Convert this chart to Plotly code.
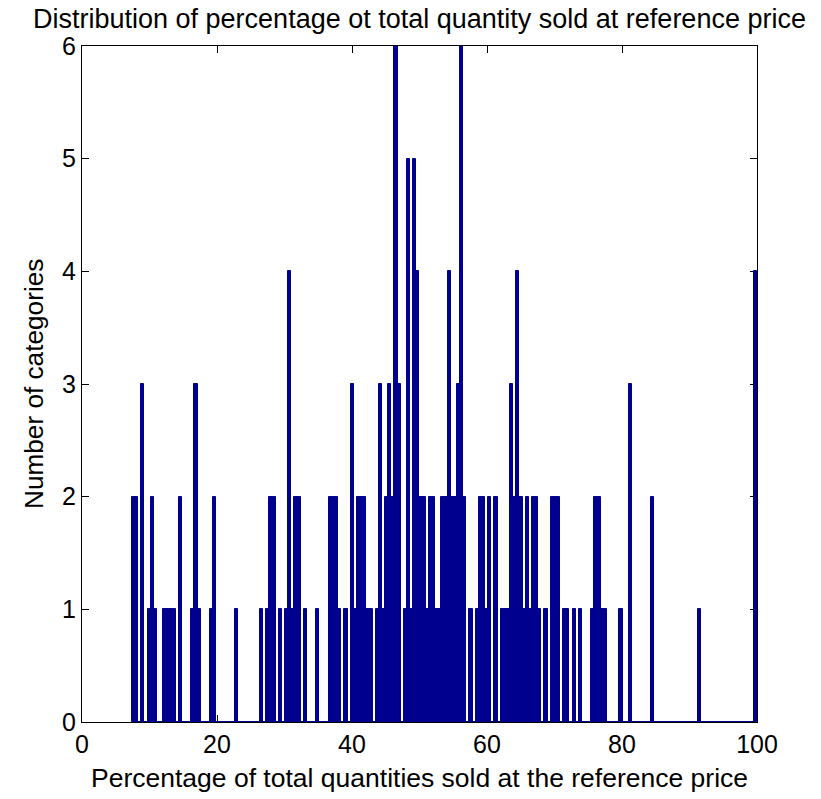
import numpy as np
import plotly.graph_objects as go

# Text
title_text = "Distribution of percentage ot total quantity sold at reference price"
x_label = "Percentage of total quantities sold at the reference price"
y_label = "Number of categories"

# Histogram: 200 equal-width bins between the smallest share and 100 %
bin_lo = 7.4
bin_hi = 100.0
counts = [
    2, 2, 0, 3, 0, 1, 2, 1, 0, 0, 1, 1, 1, 1, 0, 2, 0, 0, 0, 1,
    3, 1, 0, 0, 0, 1, 2, 0, 0, 0, 0, 0, 0, 1, 0, 0, 0, 0, 0, 0,
    0, 1, 0, 1, 2, 2, 0, 1, 0, 1, 4, 1, 2, 2, 0, 1, 0, 0, 0, 1,
    0, 0, 0, 2, 2, 2, 1, 0, 1, 0, 3, 1, 2, 2, 2, 1, 1, 0, 1, 3,
    1, 2, 3, 2, 6, 3, 0, 1, 5, 1, 5, 4, 2, 2, 1, 2, 2, 1, 1, 2,
    2, 4, 2, 2, 3, 6, 2, 0, 1, 0, 1, 2, 2, 1, 2, 0, 2, 0, 1, 1,
    1, 3, 2, 4, 2, 1, 2, 1, 2, 2, 1, 0, 1, 0, 2, 2, 2, 0, 1, 1,
    0, 1, 0, 1, 0, 0, 0, 1, 2, 2, 1, 1, 0, 0, 0, 0, 1, 0, 0, 3,
    0, 0, 0, 0, 0, 0, 2, 0, 0, 0, 0, 0, 0, 0, 0, 0, 0, 0, 0, 0,
    0, 1, 0, 0, 0, 0, 0, 0, 0, 0, 0, 0, 0, 0, 0, 0, 0, 0, 0, 4,
]

x_ticks = [0, 20, 40, 60, 80, 100]
y_ticks = [0, 1, 2, 3, 4, 5, 6]

BAR = "rgb(0,0,143)"
FONT = "Liberation Sans, Arial, Helvetica, sans-serif"

n_bins = len(counts)
edges = np.linspace(bin_lo, bin_hi, n_bins + 1)
centers = (edges[:-1] + edges[1:]) / 2
bin_w = edges[1] - edges[0]

fig = go.Figure()

# zero-count bins still show as a flat edge along the baseline
fig.add_trace(go.Scatter(
    x=[edges[0], edges[-1]], y=[0, 0], mode="lines",
    line=dict(color=BAR, width=1), hoverinfo="skip", showlegend=False,
))

fig.add_trace(go.Bar(
    x=centers, y=counts, width=bin_w,
    marker=dict(color=BAR, line=dict(color=BAR, width=1)),
    showlegend=False,
))

axis_common = dict(
    showline=True, linecolor="black", linewidth=1, mirror="ticks",
    ticks="inside", ticklen=7, tickwidth=1, tickcolor="black",
    showgrid=False, zeroline=False, layer="below traces",
    tickfont=dict(family=FONT, size=25, color="black"),
)

fig.update_layout(
    width=821, height=799,
    margin=dict(l=82, r=64, t=46, b=77),
    paper_bgcolor="white", plot_bgcolor="white",
    bargap=0,
    font=dict(family=FONT, color="black"),
    xaxis=dict(range=[0, 100], tickvals=x_ticks, **axis_common),
    yaxis=dict(range=[0, 6], tickvals=y_ticks, **axis_common),
    annotations=[
        dict(text=title_text, xref="paper", yref="paper", x=0.5, y=1,
             xanchor="center", yanchor="bottom", yshift=10, showarrow=False,
             font=dict(family=FONT, size=27, color="black")),
        dict(text=x_label, xref="paper", yref="paper", x=0.5, y=0,
             xanchor="center", yanchor="top", yshift=-39, showarrow=False,
             font=dict(family=FONT, size=26.5, color="black")),
        dict(text=y_label, xref="paper", yref="paper", x=0, y=0.5,
             xanchor="right", yanchor="middle", xshift=-31, textangle=-90,
             showarrow=False, font=dict(family=FONT, size=26.2, color="black")),
    ],
)

fig.write_html("out.html")
